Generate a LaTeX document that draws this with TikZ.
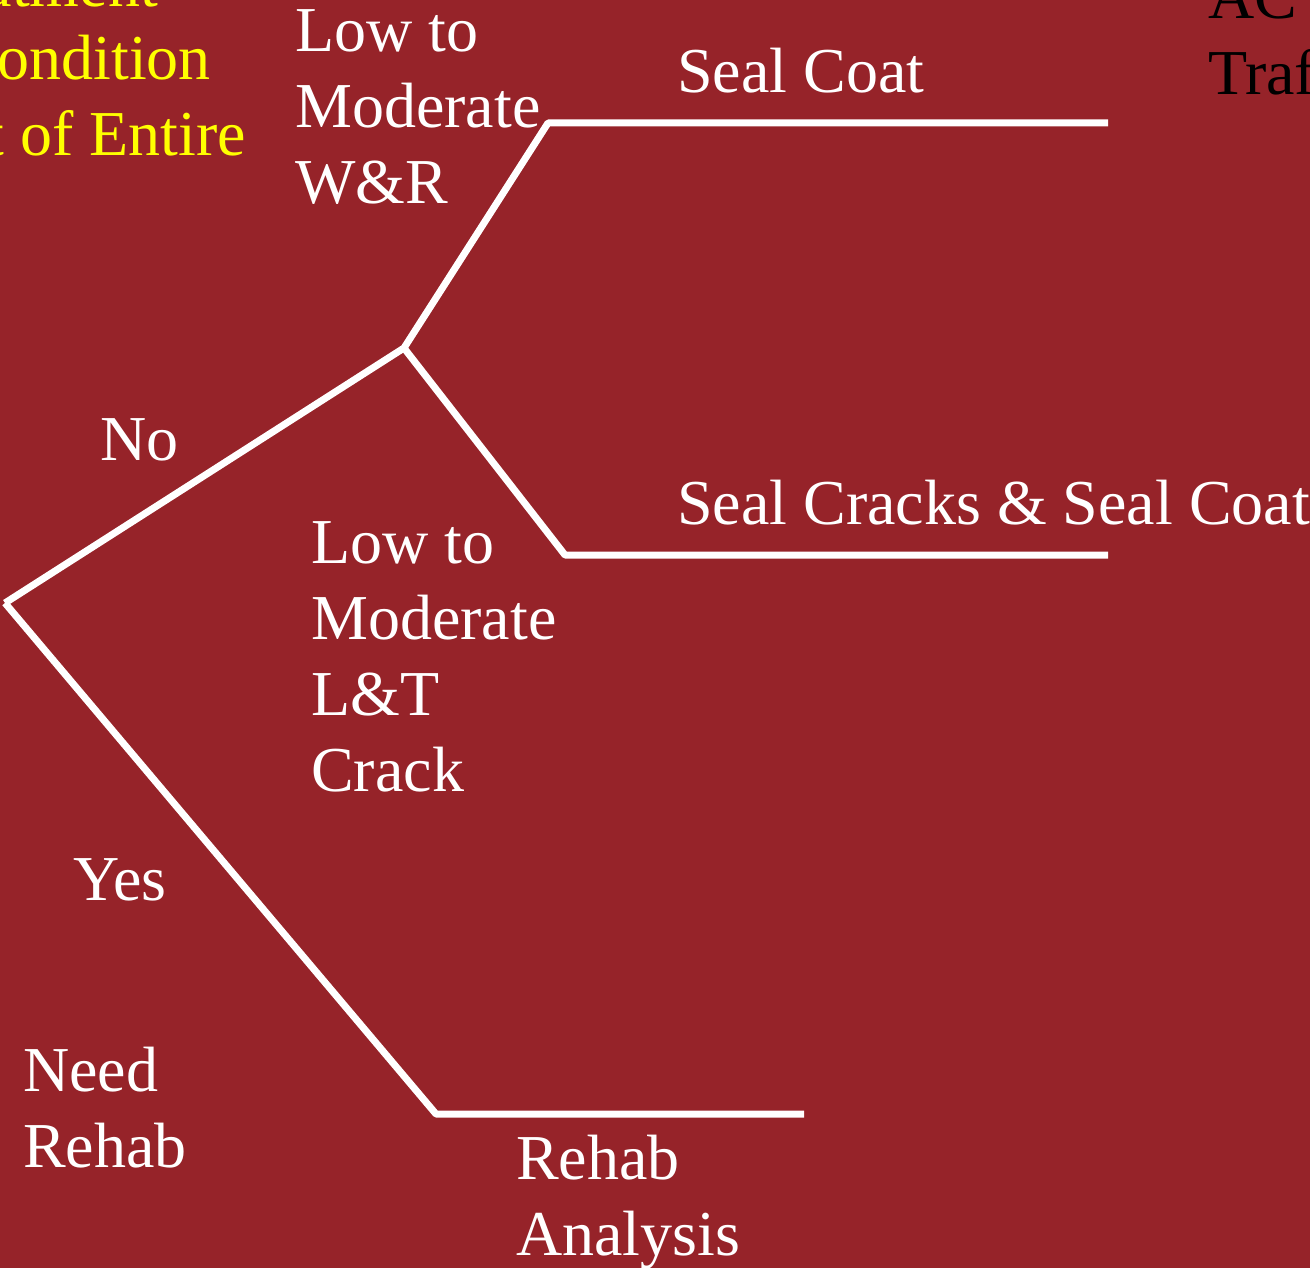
\documentclass[tikz,border=0pt]{standalone}
\usepackage{fontspec}
\setmainfont{Liberation Serif}
\definecolor{bg}{RGB}{150,35,41}
\definecolor{ylw}{RGB}{255,255,0}
\begin{document}
\begin{tikzpicture}[x=1pt,y=-1pt,
  lbl/.style={inner sep=0pt,font=\fontsize{64}{76}\selectfont,text=white,anchor=base west,align=left},
  ylbl/.style={inner sep=0pt,font=\fontsize{64}{76}\selectfont,text=ylw,anchor=base east},
  blbl/.style={inner sep=0pt,font=\fontsize{64}{76}\selectfont,text=black,anchor=base west},
  branch/.style={draw=white,line width=7pt,line join=bevel}]
\useasboundingbox (0,0) rectangle (1310,1268);
\fill[bg] (0,0) rectangle (1310,1268);
\clip (0,0) rectangle (1310,1268);
% coordinates
\coordinate (root) at (5,603);
\coordinate (nofork) at (404,348);
\coordinate (wrbend) at (548,123);
\coordinate (wrend) at (1108,123);
\coordinate (ltbend) at (565,555);
\coordinate (ltend) at (1108,555);
\coordinate (rhbend) at (436,1114);
\coordinate (rhend) at (804,1114);
% branches
\draw[branch] (root) -- (nofork) -- (wrbend) -- (wrend);
\draw[branch] (nofork) -- (ltbend) -- (ltend);
\draw[branch] (root) -- (rhbend) -- (rhend);
% labels (base = last line's baseline)
\node[lbl] (sealcoat) at (677,93) {Seal Coat};
\node[lbl] (sealcracks) at (677,524) {Seal Cracks \& Seal Coat};
\node[lbl] (wr) at (295,204) {Low to\\Moderate\\W\&R};
\node[lbl] (no) at (100,460) {No};
\node[lbl] (lt) at (311,791) {Low to\\Moderate\\L\&T\\Crack};
\node[lbl] (yes) at (73,900) {Yes};
\node[lbl] (need) at (23,1167) {Need\\Rehab};
\node[lbl] (rehab) at (516,1255) {Rehab\\Analysis};
% clipped yellow title
\node[ylbl] (y1) at (158,7) {Treatment};
\node[ylbl] (y2) at (211,80) {Condition};
\node[ylbl] (y3) at (246,156) {Assessment of Entire};
% clipped black text
\node[blbl] (b1) at (1208,19) {AC};
\node[blbl] (b2) at (1208,95) {Traffic};
\end{tikzpicture}
\end{document}
